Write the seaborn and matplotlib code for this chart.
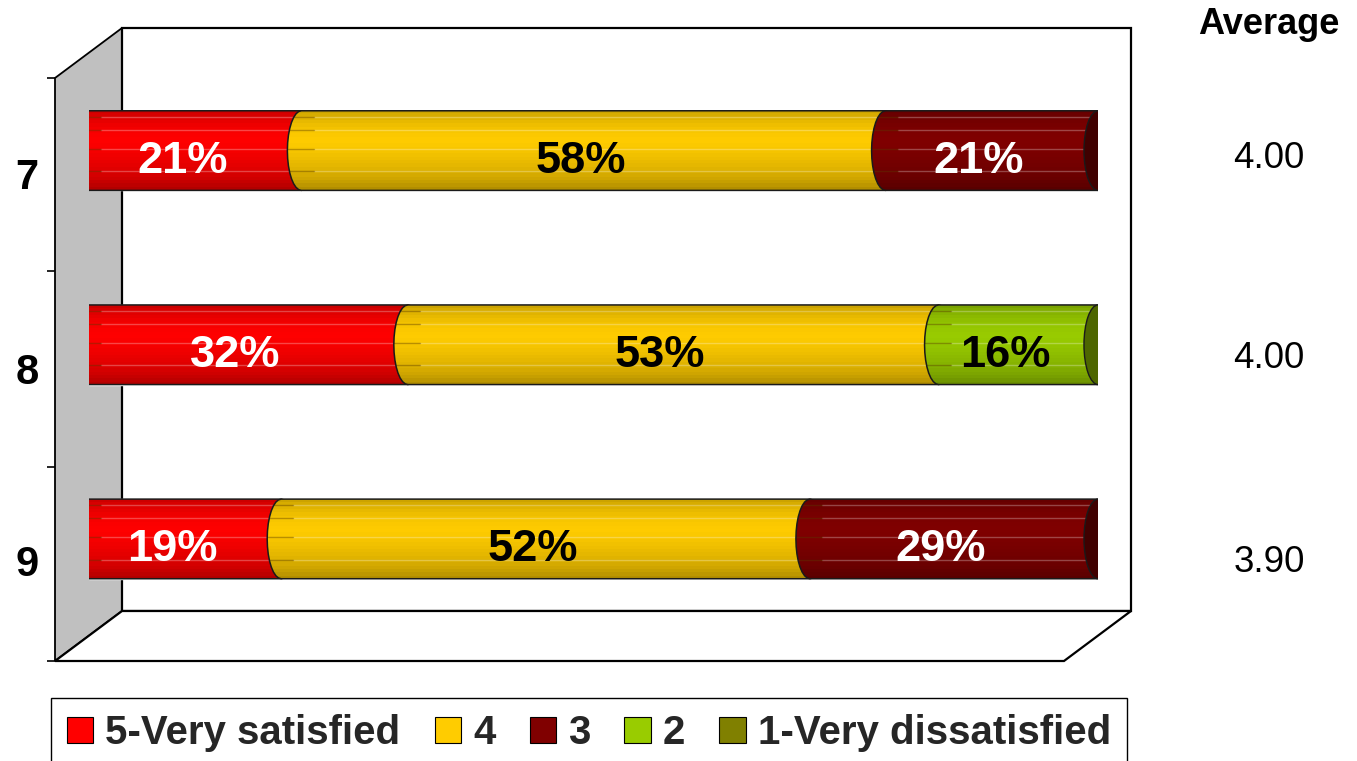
import numpy as np
import pandas as pd
import matplotlib
matplotlib.use("Agg")
import matplotlib.pyplot as plt
from matplotlib.patches import PathPatch, Patch, Polygon, Rectangle, Ellipse
from matplotlib.path import Path
import seaborn as sns

# ---------- data ----------
groups = ["7", "8", "9"]
series_names = ["5-Very satisfied", "4", "3", "2", "1-Very dissatisfied"]
very_satisfied = [21.05, 31.6, 19.05]
four = [57.9, 52.6, 52.4]
three = [21.05, 0, 28.55]
two = [0, 15.8, 0]
very_dissatisfied = [0, 0, 0]
averages = ["4.00", "4.00", "3.90"]
series_values = [very_satisfied, four, three, two, very_dissatisfied]
series_colors = ["#FF0000", "#FFCC00", "#800000", "#99CC00", "#808000"]
label_colors = ["white", "black", "white", "black", "white"]

sns.set_theme(style="white")
plt.rcParams["font.family"] = ["Liberation Sans", "DejaVu Sans"]

W, H = 1357, 761
fig = plt.figure(figsize=(W / 100, H / 100), dpi=100)

# ---------- 3D box (pixel overlay) ----------
bg = fig.add_axes([0, 0, 1, 1], zorder=1)
bg.set_xlim(0, W)
bg.set_ylim(H, 0)
bg.axis("off")
bg.add_patch(Polygon([(55, 78), (122, 28), (122, 611), (55, 661)], closed=True,
                     fc="#C0C0C0", ec="black", lw=1.3))
bg.add_patch(Rectangle((122, 28), 1009, 583, fc="white", ec="black", lw=1.6))
bg.add_patch(Polygon([(55, 661), (122, 611), (1131, 611), (1064, 661)], closed=True,
                     fc="white", ec="black", lw=1.6))
for ty in (78, 271, 467, 661):
    bg.plot([47, 55], [ty, ty], color="black", lw=1.2, solid_capstyle="butt")
for g, ty in zip(groups, (178, 373, 565)):
    bg.text(27, ty, g, ha="center", va="center", fontsize=30, fontweight="bold", color="black")
bg.text(1269, 24, "Average", ha="center", va="center", fontsize=26, fontweight="bold", color="black")
for a, ty in zip(averages, (159, 359, 562)):
    bg.text(1269, ty, a, ha="center", va="center", fontsize=26.5, color="black")

# ---------- bars ----------
ax = fig.add_axes([89 / W, 1 - 636 / H, 1009 / W, (636 - 53.5) / H], zorder=2)
ax.patch.set_alpha(0)

shade_pos = np.array([0.0, 0.06, 0.16, 0.28, 0.38, 0.5, 0.62, 0.74, 0.86, 0.94, 1.0])
shade_val = np.array([0.80, 0.86, 0.93, 0.98, 1.0, 0.97, 0.93, 0.88, 0.82, 0.76, 0.70])
streaks = [0.08, 0.24, 0.48, 0.76]
CAP = 1.39


def seg_path(a, b, y0, y1):
    t = np.linspace(-np.pi / 2, np.pi / 2, 17)
    ym, ry = (y0 + y1) / 2, (y1 - y0) / 2
    lx = a - CAP * np.cos(t)
    ly = ym + ry * np.sin(t)
    rx = b + CAP * np.cos(t[::-1])
    ry_ = ym + ry * np.sin(t[::-1])
    verts = np.column_stack([np.r_[lx, rx], np.r_[ly, ry_]])
    return Path(np.vstack([verts, verts[0]]), closed=True)


df = pd.DataFrame({"group": groups})
left = np.zeros(len(groups))
segments = []
for vals, col, name in zip(series_values, series_colors, series_names):
    vals = np.asarray(vals, float)
    n_before = len(ax.patches)
    sns.barplot(x=vals, y=df["group"], left=left, color=col, saturation=1, width=0.41,
                orient="h", errorbar=None, ax=ax, zorder=1)
    for p, v, col_lab in zip(ax.patches[n_before:], vals, [label_colors[series_colors.index(col)]] * 3):
        if v > 0:
            segments.append((p, v, col, col_lab))
    left = left + vals

ax.set_xlim(0, 100)
ax.set_ylim(2.5, -0.5)
ax.axis("off")

order = 2
for p, v, col, col_lab in segments:
    a, b = p.get_x(), p.get_x() + p.get_width()
    y0, y1 = p.get_y(), p.get_y() + p.get_height()
    rgb = np.array(matplotlib.colors.to_rgb(col))
    levels = np.interp(np.linspace(0, 1, 24), shade_pos, shade_val)
    img = np.clip(levels[:, None, None] * rgb[None, None, :], 0, 1)
    path = seg_path(a, b, y0, y1)
    im = ax.imshow(img, extent=(a - CAP, b + CAP, y1, y0), aspect="auto",
                   interpolation="nearest", zorder=order)
    clip = PathPatch(path, transform=ax.transData, fc="none", ec="none")
    ax.add_patch(clip)
    im.set_clip_path(clip)
    for s in streaks:
        yy = y0 + s * (y1 - y0)
        l1, = ax.plot([a + 1.2, b], [yy, yy], color="white", alpha=0.28, lw=1, zorder=order + 0.1)
        l2, = ax.plot([a - CAP, a + 1.2], [yy, yy], color="#5a3a00", alpha=0.4, lw=1, zorder=order + 0.1)
        l1.set_clip_path(clip)
        l2.set_clip_path(clip)
    ax.add_patch(PathPatch(path, fc="none", ec="#1a1a1a", lw=1.1, zorder=order + 0.2))
    last = abs(b - left[int(round((y0 + y1) / 2))]) < 1e-6
    if last:
        ax.add_patch(Ellipse((b, (y0 + y1) / 2), 2 * CAP, y1 - y0, fc=rgb * 0.5, ec="#1a1a1a",
                             lw=1.0, zorder=order + 0.3))
    ax.annotate(f"{v:.0f}%", ((a + b) / 2, (y0 + y1) / 2), xytext=(-13, -11),
                textcoords="offset pixels", ha="center", va="center", fontsize=32.5,
                fontweight="bold", color=col_lab, zorder=50)
    order += 1

# ---------- legend ----------
handles = [Patch(fc=c, ec="black", lw=0.8) for c in series_colors]
leg = fig.legend(handles, series_names, ncol=5, loc="upper left",
                 bbox_to_anchor=(51, 698), bbox_transform=bg.transData, borderaxespad=0,
                 prop={"weight": "bold", "size": 29}, frameon=True, fancybox=False,
                 framealpha=1, edgecolor="black", handlelength=0.65, handleheight=0.65,
                 handletextpad=0.3, columnspacing=0.85, borderpad=0.4)
leg.get_frame().set_linewidth(1.0)
leg.set_zorder(5)

fig.savefig("out.png", dpi=100)
